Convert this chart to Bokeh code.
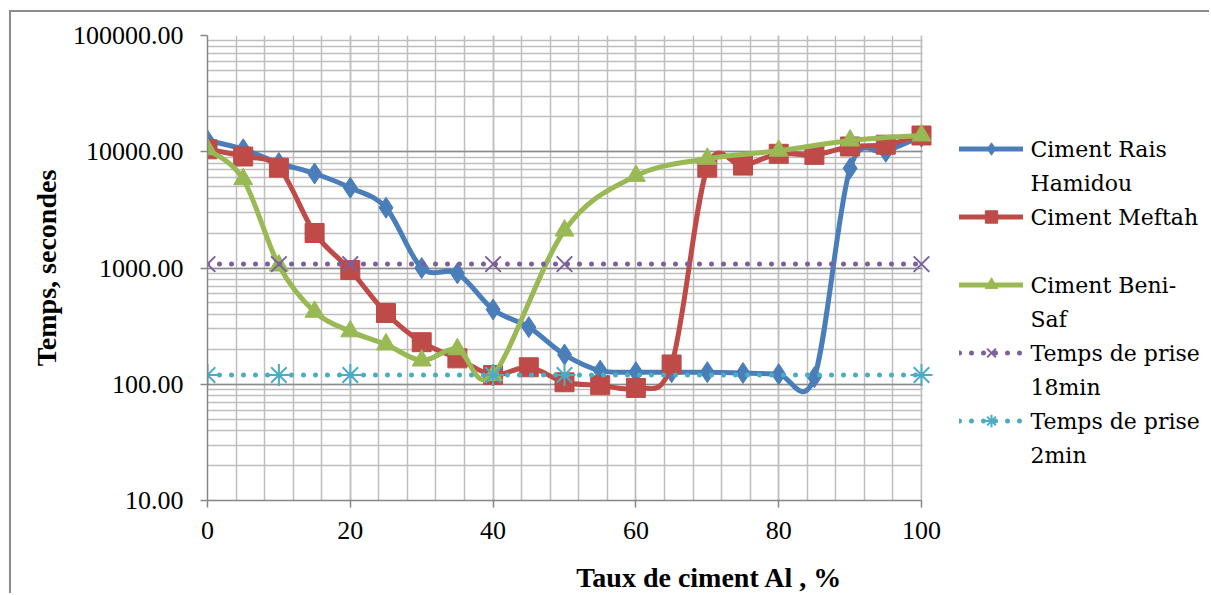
import numpy as np
from bokeh.plotting import figure
from bokeh.models import (Range1d, FixedTicker, LogTicker, PrintfTickFormatter, Legend,
                          LegendItem, BoxAnnotation, Label)
from bokeh.embed import file_html
from bokeh.resources import INLINE

# ---------------- data ----------------
taux = [0, 5, 10, 15, 20, 25, 30, 35, 40, 45, 50, 55, 60, 65, 70, 75, 80, 85, 90, 95, 100]
rais_hamidou = [12500, 10500, 8000, 6500, 4900, 3300, 1000, 900, 440, 310, 180, 131, 127,
                127, 127, 125, 122, 115, 7200, 10000, 13500]
meftah = [10500, 9100, 7300, 2000, 960, 410, 230, 167, 120, 140, 104, 98, 93,
          148, 7300, 7600, 9600, 9400, 11100, 11500, 13800]
taux_beni = [0, 5, 10, 15, 20, 25, 30, 35, 40, 50, 60, 70, 80, 90, 100]
beni_saf = [10500, 5800, 1050, 420, 285, 220, 160, 200, 120, 2100, 6200, 8700, 10200, 12500, 13800]
taux_ref = [0, 10, 20, 40, 50, 100]
prise_18min = [1080, 1080, 1080, 1080, 1080, 1080]
prise_2min = [120, 120, 120, 120, 120, 120]

# legend labels (Excel wraps them on two lines)
labels = [("Ciment Rais", "Hamidou"), ("Ciment Meftah", ""), ("Ciment Beni-", "Saf"),
          ("Temps de prise", "18min"), ("Temps de prise", "2min")]
colors = ["#4A7EBB", "#BE4B48", "#98B954", "#7D5FA0", "#4BACC6"]

FONT = "Liberation Serif"
LEGEND_FONT = "DejaVu Serif"


def smooth_segments(xs, ys):
    """Bezier control points (Excel-like smoothing) in x / log10(y) space."""
    lx = np.asarray(xs, float)
    ly = np.log10(np.asarray(ys, float))
    n = len(lx)
    out = {k: [] for k in ("x0", "y0", "x1", "y1", "cx0", "cy0", "cx1", "cy1")}
    for i in range(n - 1):
        a = i - 1 if i > 0 else i
        d = i + 2 if i + 2 < n else i + 1
        out["x0"].append(lx[i]); out["y0"].append(10 ** ly[i])
        out["x1"].append(lx[i + 1]); out["y1"].append(10 ** ly[i + 1])
        out["cx0"].append(lx[i] + (lx[i + 1] - lx[a]) / 6)
        out["cy0"].append(10 ** (ly[i] + (ly[i + 1] - ly[a]) / 6))
        out["cx1"].append(lx[i + 1] - (lx[d] - lx[i]) / 6)
        out["cy1"].append(10 ** (ly[i + 1] - (ly[d] - ly[i]) / 6))
    return out


X_MAX = 100 * 1004 / 714   # frame extends to the right edge to host the legend

p = figure(width=1200, height=583, y_axis_type="log",
           x_range=Range1d(0, X_MAX), y_range=Range1d(10, 100000),
           output_backend="svg", toolbar_location=None,
           min_border_left=196, min_border_right=0,
           min_border_top=23, min_border_bottom=95)
p.styles = {"border-left": "2px solid #8C8C8C", "border-top": "2px solid #8C8C8C",
            "margin-left": "9px", "margin-top": "10px"}
p.outline_line_color = None
p.background_fill_color = "white"

# axes
p.xaxis.ticker = FixedTicker(ticks=list(range(0, 101, 20)), minor_ticks=list(range(0, 101, 4)))
p.xaxis.bounds = (0, 100)
p.yaxis.ticker = LogTicker(num_minor_ticks=10)
p.yaxis.formatter = PrintfTickFormatter(format="%.2f")
for ax in (p.xaxis[0], p.yaxis[0]):
    ax.axis_line_color = "#868686"
    ax.axis_line_width = 1.5
    ax.major_tick_line_color = "#868686"
    ax.major_tick_line_width = 1.5
    ax.major_tick_out = 7
    ax.major_tick_in = 0
    ax.minor_tick_out = 0
    ax.minor_tick_in = 0
    ax.major_label_text_font = FONT
    ax.major_label_text_font_size = "26px"
    ax.major_label_text_color = "black"
    ax.axis_label_text_font = FONT
    ax.axis_label_text_font_size = "28px"
    ax.axis_label_text_font_style = "bold"
    ax.axis_label_text_color = "black"
p.xaxis.axis_label = "Taux de ciment Al , %"
p.yaxis.axis_label = "Temps, secondes"
p.xaxis.major_label_standoff = 14
p.yaxis.major_label_standoff = 17
p.xaxis.axis_label_standoff = 20
p.yaxis.axis_label_standoff = 8

# grid
p.xgrid.grid_line_color = "#BEBEBE"
p.xgrid.minor_grid_line_color = "#BEBEBE"
p.xgrid.grid_line_width = 1.5
p.xgrid.minor_grid_line_width = 1.5
p.ygrid.grid_line_color = "#8C8C8C"
p.ygrid.minor_grid_line_color = "#BEBEBE"
p.ygrid.grid_line_width = 1.5
p.ygrid.minor_grid_line_width = 1.5
# blank the grid beyond x = 100 (legend area)
p.add_layout(BoxAnnotation(left=100.15, fill_color="white", fill_alpha=1,
                           line_color=None, level="underlay"))

blank = p.scatter(x=[], y=[], size=1, fill_alpha=0, line_alpha=0)

items = []
# main series (smoothed lines + markers)
series = [
    (taux, rais_hamidou, "diamond", 21, colors[0]),
    (taux, meftah, "square", 19, colors[1]),
    (taux_beni, beni_saf, "triangle", 19, colors[2]),
]
for xs, ys, marker, size, col in series:
    seg = smooth_segments(xs, ys)
    r1 = p.bezier(**seg, line_color=col, line_width=5, line_cap="round")
    r2 = p.scatter(xs, ys, marker=marker, size=size, fill_color=col, line_color=col,
                   line_width=1)
    items.append(LegendItem(label=" ", renderers=[r1, r2]))
    items.append(LegendItem(label=" ", renderers=[blank]))

# reference lines
refs = [
    (prise_18min, "x", colors[3]),
    (prise_2min, "asterisk", colors[4]),
]
for ys, marker, col in refs:
    r1 = p.line(taux_ref, ys, line_color=col, line_width=5, line_dash="0 12", line_cap="round")
    r2 = p.scatter(taux_ref, ys, marker=marker, size=22, line_color=col, fill_color=None,
                   line_width=2)
    items.append(LegendItem(label=" ", renderers=[r1, r2]))
    items.append(LegendItem(label=" ", renderers=[blank]))

# legend geometry (screen px, relative to the frame's bottom-left)
LEG_X, LEG_BOTTOM, ROW_H, ROW_GAP, GLYPH_W, STANDOFF = 752, 30, 31, 3, 64, 6
lg = Legend(items=items, location=(LEG_X, LEG_BOTTOM))
lg.background_fill_alpha = 0
lg.border_line_color = None
lg.padding = 0
lg.margin = 0
lg.spacing = ROW_GAP
lg.glyph_width = GLYPH_W
lg.glyph_height = ROW_H
lg.label_height = ROW_H
lg.label_width = 10
lg.label_standoff = STANDOFF
lg.label_text_font_size = "10px"
p.add_layout(lg, "center")

# legend texts (two lines per entry, as wrapped in the original)
n_rows = 2 * len(labels)
for k, pair in enumerate(labels):
    for j, txt in enumerate(pair):
        if not txt:
            continue
        row = 2 * k + j
        y_center = LEG_BOTTOM + (n_rows - 1 - row) * (ROW_H + ROW_GAP) + ROW_H / 2
        p.add_layout(Label(x=LEG_X + GLYPH_W + STANDOFF + 1, y=y_center,
                           x_units="screen", y_units="screen", text=txt,
                           text_font=LEGEND_FONT, text_font_size="22px", text_color="black",
                           text_align="left", text_baseline="middle"))

open("out.html", "w").write(file_html(p, INLINE))
